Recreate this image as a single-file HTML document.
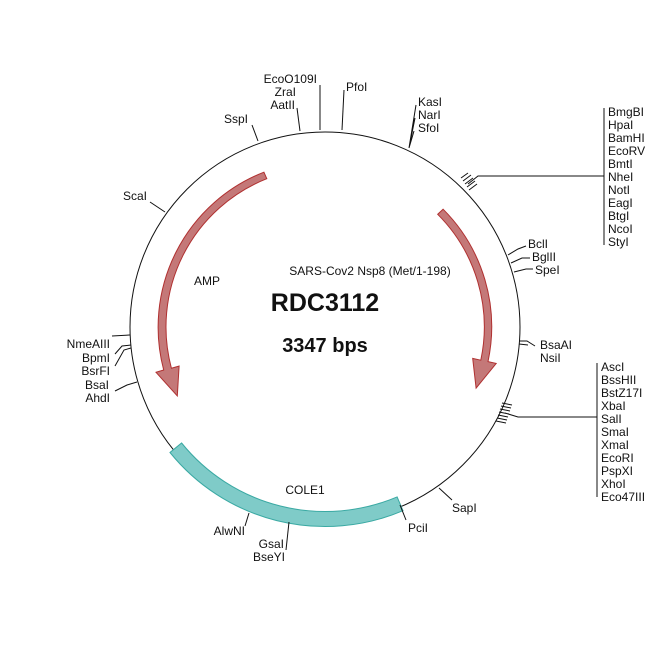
<!DOCTYPE html>
<html><head><meta charset="utf-8"><style>
html,body{margin:0;padding:0;background:#fff;}
svg{display:block;font-family:"Liberation Sans",Arial,sans-serif;}
text{font-size:12px;fill:#111;}
.l{stroke:#111;stroke-width:1;fill:none;}
</style></head><body>
<svg width="650" height="650" viewBox="0 0 650 650">
<circle cx="325" cy="327" r="195" class="l"/>
<path d="M170,452.5 A199.5,199.5 0 0 0 403,510.7 L397.1,496.9 A184.5,184.5 0 0 1 181.6,443 Z" fill="#7fcbc8" stroke="#3aa9a3" stroke-width="1"/>
<path d="M263.9,172.2 A166.5,166.5 0 0 0 163.7,370 L156,372.3 L177.3,395.9 L179.1,366.1 L171.4,368.2 A159.5,159.5 0 0 1 266.8,178.7 Z" fill="#c47878" stroke="#b03030" stroke-width="1"/>
<path d="M443.1,209.2 A166.5,166.5 0 0 1 488,361.6 L496.2,363.4 L476.1,388.1 L472.7,358.4 L480.8,360.2 A159.5,159.5 0 0 0 437.7,214.3 Z" fill="#c47878" stroke="#b03030" stroke-width="1"/>

<text x="325" y="311" text-anchor="middle" style="font-size:25px;font-weight:bold">RDC3112</text>
<text x="325" y="352" text-anchor="middle" style="font-size:20px;font-weight:bold">3347 bps</text>
<text x="207" y="285" text-anchor="middle">AMP</text>
<text x="370" y="275" text-anchor="middle">SARS-Cov2 Nsp8 (Met/1-198)</text>
<text x="305" y="494" text-anchor="middle">COLE1</text>

<path class="l" d="M258,141 L252,125"/>
<text x="248" y="123" text-anchor="end">SspI</text>
<path class="l" d="M300,131 L297,108"/>
<path class="l" d="M320,130 L320,85"/>
<text x="317" y="83" text-anchor="end">EcoO109I</text>
<text x="296" y="96" text-anchor="end">ZraI</text>
<text x="295" y="109" text-anchor="end">AatII</text>
<path class="l" d="M342,130 L344,90"/>
<text x="346" y="91">PfoI</text>
<path class="l" d="M409,148 L416,105 M409,148 L415,118 M409,148 L414,131"/>
<text x="418" y="106">KasI</text>
<text x="418" y="119">NarI</text>
<text x="418" y="132">SfoI</text>

<path class="l" d="M461,178 L468,173 M463,181 L471,175 M465,184 L473,178 M467,187 L475,181 M469,190 L477,184 M468,184 L478,176 L604,176 M604,108 L604,245"/>
<g>
<text x="608" y="116">BmgBI</text><text x="608" y="129">HpaI</text><text x="608" y="142">BamHI</text><text x="608" y="155">EcoRV</text><text x="608" y="168">BmtI</text><text x="608" y="181">NheI</text><text x="608" y="194">NotI</text><text x="608" y="207">EagI</text><text x="608" y="220">BtgI</text><text x="608" y="233">NcoI</text><text x="608" y="246">StyI</text>
</g>

<path class="l" d="M508,255 L518,249 L526,246 M511,263 L522,258 L530,258 M514,272 L526,269 L533,269"/>
<text x="528" y="248">BclI</text>
<text x="532" y="261">BglII</text>
<text x="535" y="274">SpeI</text>
<path class="l" d="M519,341 L527,341 L535,346 M519,344 L528,345"/>
<text x="540" y="349">BsaAI</text>
<text x="540" y="362">NsiI</text>

<path class="l" d="M502,403 L512,405 M501,406 L511,408 M500,409 L510,411 M499,412 L509,414 M498,415 L508,417 M497,418 L507,420 M496,421 L506,423 M505,413 L518,417 L597,417 M597,363 L597,497"/>
<g>
<text x="601" y="371">AscI</text><text x="601" y="384">BssHII</text><text x="601" y="397">BstZ17I</text><text x="601" y="410">XbaI</text><text x="601" y="423">SalI</text><text x="601" y="436">SmaI</text><text x="601" y="449">XmaI</text><text x="601" y="462">EcoRI</text><text x="601" y="475">PspXI</text><text x="601" y="488">XhoI</text><text x="601" y="501">Eco47III</text>
</g>

<path class="l" d="M439,488 L452,500"/>
<text x="452" y="512">SapI</text>
<path class="l" d="M400,505 L406,520"/>
<text x="408" y="532">PciI</text>
<path class="l" d="M289,522 L286,550"/>
<text x="284" y="548" text-anchor="end">GsaI</text>
<text x="285" y="561" text-anchor="end">BseYI</text>
<path class="l" d="M249,513 L245,526"/>
<text x="245" y="535" text-anchor="end">AlwNI</text>

<path class="l" d="M165,212 L150,202"/>
<text x="147" y="200" text-anchor="end">ScaI</text>
<path class="l" d="M130,335 L112,336"/>
<text x="110" y="348" text-anchor="end">NmeAIII</text>
<path class="l" d="M131,345 L122,346 L115,354 M131,348 L124,350 L115,366"/>
<text x="110" y="362" text-anchor="end">BpmI</text>
<text x="110" y="375" text-anchor="end">BsrFI</text>
<path class="l" d="M137,382 L127,385 L115,391"/>
<text x="109" y="389" text-anchor="end">BsaI</text>
<text x="110" y="402" text-anchor="end">AhdI</text>
</svg>
</body></html>
